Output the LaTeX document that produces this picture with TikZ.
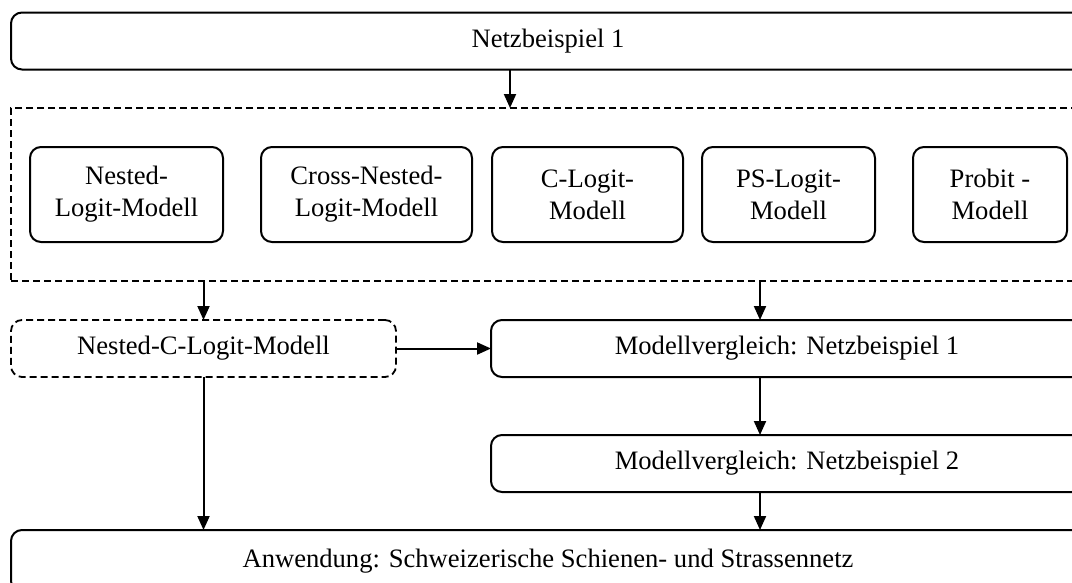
\documentclass[tikz,border=0pt]{standalone}
\usepackage{fontspec}
\setmainfont{Liberation Serif}
\usetikzlibrary{arrows.meta}
\begin{document}
\begin{tikzpicture}[x=1pt,y=-1pt,
  every node/.style={font=\fontsize{26.6}{32}\selectfont, inner sep=0pt, outer sep=0pt},
  box/.style={draw, line width=2pt, rounded corners=11pt, align=center},
  dbox/.style={draw, line width=1.8pt, dash pattern=on 7pt off 4pt, align=center},
  arr/.style={line width=2pt, -{Triangle[length=14pt,width=12pt]}}]
\useasboundingbox (0,0) rectangle (1072,582);
\clip (0,0) rectangle (1072,582);
\fill[white] (0,0) rectangle (1072,582);
% top
\node[box, minimum width=1074pt, minimum height=57pt] (top) at (548,41) {Netzbeispiel 1};
% group
\node[dbox, minimum width=1074pt, minimum height=173pt] (grp) at (548,194.5) {};
\node[box, minimum width=193pt, minimum height=95pt] (b1) at (126.5,194.5) {Nested-\\Logit-Modell};
\node[box, minimum width=211pt, minimum height=95pt] (b2) at (366.5,194.5) {Cross-Nested-\\Logit-Modell};
\node[box, minimum width=191pt, minimum height=95pt] (b3) at (587.5,194.5) {C-Logit-\\Modell};
\node[box, minimum width=173pt, minimum height=95pt] (b4) at (788.5,194.5) {PS-Logit-\\Modell};
\node[box, minimum width=154pt, minimum height=95pt] (b5) at (990,194.5) {Probit -\\Modell};
% middle
\node[dbox, rounded corners=11pt, minimum width=385pt, minimum height=57pt] (ncl) at (203.5,348.5) {Nested-C-Logit-Modell};
\node[box, minimum width=592pt, minimum height=57pt] (mv1) at (787,348.5) {Modellvergleich: Netzbeispiel 1};
\node[box, minimum width=592pt, minimum height=57pt] (mv2) at (787,463.5) {Modellvergleich: Netzbeispiel 2};
% bottom
\node[box, minimum width=1074pt, minimum height=62pt] (bot) at (548,561) {Anwendung: Schweizerische Schienen- und Strassennetz};
% connectors
\coordinate (xa) at (510,0);
\coordinate (xb) at (760,0);
\draw[arr] (top.south -| xa) -- (grp.north -| xa);
\draw[arr] (grp.south -| ncl.north) -- (ncl.north);
\draw[arr] (grp.south -| xb) -- (mv1.north -| xb);
\draw[arr] (ncl.east) -- (mv1.west);
\draw[arr] (mv1.south -| xb) -- (mv2.north -| xb);
\draw[arr] (mv2.south -| xb) -- (bot.north -| xb);
\draw[arr] (ncl.south) -- (bot.north -| ncl.south);
\end{tikzpicture}
\end{document}
